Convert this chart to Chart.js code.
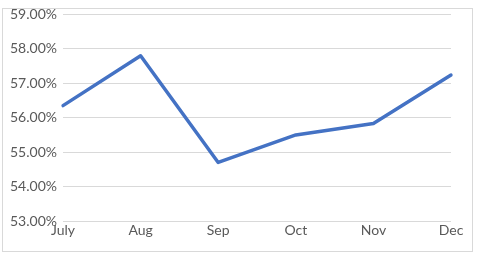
<!DOCTYPE html>
<html>
<head>
<meta charset="utf-8">
<script src="https://cdn.jsdelivr.net/npm/chart.js@4"></script>
<style>
  html, body { margin: 0; padding: 0; background: #fff; }
  #wrap { position: relative; width: 479px; height: 255px; }
  #frame { position: absolute; left: 2px; top: 8px; width: 471px; height: 244px; border: 1px solid #d9d9d9; box-sizing: border-box; }
  canvas { position: absolute; left: 0; top: 0; }
</style>
</head>
<body>
<div id="wrap">
  <div id="frame"></div>
  <canvas id="myChart" width="479" height="255"></canvas>
</div>
<script>
const meses = ['July', 'Aug', 'Sep', 'Oct', 'Nov', 'Dec'];
const valores = [56.35, 57.80, 54.70, 55.50, 55.83, 57.24];
const yMin = 53;
const yMax = 59;

const ctx = document.getElementById('myChart').getContext('2d');
let myChart = new Chart(ctx, {
  type: 'line',
  data: {
    labels: meses,
    datasets: [{
      data: valores,
      borderColor: '#4472C4',
      borderWidth: 3.5,
      pointRadius: 0,
      tension: 0,
      borderJoinStyle: 'round',
      borderCapStyle: 'round'
    }]
  },
  options: {
    responsive: false,
    animation: false,
    layout: { padding: { left: 0, top: 13, right: 28, bottom: 0 } },
    plugins: { legend: { display: false }, tooltip: { enabled: false } },
    scales: {
      x: {
        offset: false,
        grid: { display: false, drawTicks: false },
        border: { display: false },
        ticks: { color: '#595959', font: { family: 'Lato', size: 14 }, padding: 1, maxRotation: 0 },
        afterFit: (scale) => { scale.height = 34; }
      },
      y: {
        min: yMin,
        max: yMax,
        grid: { color: '#d9d9d9', drawTicks: false },
        border: { display: false },
        ticks: {
          stepSize: 1,
          color: '#595959',
          font: { family: 'Lato', size: 14 },
          padding: 6,
          callback: (v) => v.toFixed(2) + '%'
        },
        afterFit: (scale) => { scale.width = 63; }
      }
    }
  }
});
</script>
</body>
</html>
